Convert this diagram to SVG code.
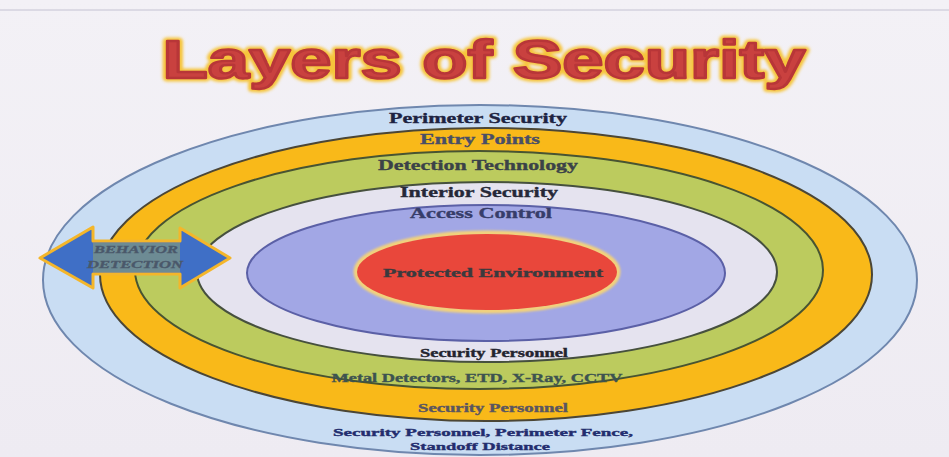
<svg xmlns="http://www.w3.org/2000/svg" width="949" height="457" viewBox="0 0 949 457">
  <defs>
    <linearGradient id="bg" x1="0" y1="0" x2="0" y2="1">
      <stop offset="0" stop-color="#f3f1f6"/>
      <stop offset="1" stop-color="#eeebf2"/>
    </linearGradient>
    <filter id="glow" x="-10%" y="-40%" width="120%" height="180%">
      <feGaussianBlur stdDeviation="1.6"/>
    </filter>
    <filter id="soft" x="-10%" y="-20%" width="120%" height="140%">
      <feGaussianBlur stdDeviation="1.2"/>
    </filter>
  </defs>
  <style>
    .ring { stroke-width: 2; }
    .lbl { font-family: "Liberation Serif", "Times New Roman", serif; font-weight: bold; text-anchor: middle; stroke-width: 0.35; }
    .top { font-size: 15px; }
    .low { font-size: 12px; }
    .small { font-size: 11px; }
    .title { font-family: "Liberation Sans", Arial, sans-serif; font-weight: bold; font-size: 54px; text-anchor: middle; }
    .tag { font-family: "Liberation Serif", "Times New Roman", serif; font-weight: bold; font-style: italic; font-size: 10px; text-anchor: middle; fill: #4a586a; stroke: #4a586a; stroke-width: 0.3; }
  </style>

  <!-- page -->
  <rect x="0" y="0" width="949" height="457" fill="url(#bg)"/>
  <line x1="0" y1="10" x2="949" y2="10" stroke="#c4c2d2" stroke-width="1"/>

  <!-- heading -->
  <g id="title">
    <text class="title" x="484" y="78" textLength="643" lengthAdjust="spacingAndGlyphs" fill="none" stroke="#f6c53a" stroke-width="7" stroke-linejoin="round" filter="url(#glow)">Layers of Security</text>
    <text class="title" x="484" y="78" textLength="643" lengthAdjust="spacingAndGlyphs" fill="#c9413f" stroke="#b83638" stroke-width="2.4" stroke-linejoin="round">Layers of Security</text>
  </g>

  <!-- outermost ring -->
  <g id="perimeter-security">
    <ellipse class="ring" cx="480" cy="280" rx="437" ry="175" fill="#c9ddf3" stroke="#6f87ae"/>
    <text class="lbl top" x="478" y="123" textLength="178" lengthAdjust="spacingAndGlyphs" fill="#1d2342" stroke="#1d2342">Perimeter Security</text>
    <text class="lbl small" x="483" y="436" textLength="300" lengthAdjust="spacingAndGlyphs" fill="#232d6e" stroke="#232d6e">Security Personnel,  Perimeter Fence,</text>
    <text class="lbl small" x="480" y="450" textLength="140" lengthAdjust="spacingAndGlyphs" fill="#232d6e" stroke="#232d6e">Standoff Distance</text>
  </g>

  <g id="entry-points">
    <ellipse class="ring" cx="486" cy="274.5" rx="386" ry="146.5" fill="#f9b919" stroke="#4b4636"/>
    <text class="lbl top" x="480" y="144" textLength="120" lengthAdjust="spacingAndGlyphs" fill="#4a4e66" stroke="#4a4e66">Entry Points</text>
    <text class="lbl low" x="493" y="412" textLength="150" lengthAdjust="spacingAndGlyphs" fill="#5a5560" stroke="#5a5560">Security Personnel</text>
  </g>

  <g id="detection-technology">
    <ellipse class="ring" cx="479" cy="270" rx="344" ry="119" fill="#bccb5e" stroke="#485432"/>
    <text class="lbl top" x="478" y="170" textLength="200" lengthAdjust="spacingAndGlyphs" fill="#3b4248" stroke="#3b4248">Detection Technology</text>
    <text class="lbl low" x="477" y="382" textLength="291" lengthAdjust="spacingAndGlyphs" fill="#3d5350" stroke="#3d5350">Metal Detectors, ETD, X-Ray, CCTV</text>
  </g>

  <g id="interior-security">
    <ellipse class="ring" cx="487" cy="272" rx="290" ry="90" fill="#e5e3ef" stroke="#46503e"/>
    <text class="lbl top" x="479" y="197" textLength="158" lengthAdjust="spacingAndGlyphs" fill="#262838" stroke="#262838">Interior Security</text>
    <text class="lbl low" x="494" y="357" textLength="148" lengthAdjust="spacingAndGlyphs" fill="#23232e" stroke="#23232e">Security Personnel</text>
  </g>

  <g id="access-control">
    <ellipse class="ring" cx="486" cy="273" rx="239" ry="68" fill="#a2a7e5" stroke="#5b60a6"/>
    <text class="lbl top" x="481" y="218" textLength="142" lengthAdjust="spacingAndGlyphs" fill="#373d6a" stroke="#373d6a">Access Control</text>
  </g>

  <g id="protected-environment">
    <ellipse cx="487" cy="272" rx="131" ry="39" fill="none" stroke="#f3d27a" stroke-width="5" filter="url(#soft)"/>
    <ellipse cx="487" cy="272" rx="130" ry="38" fill="#e9473b"/>
    <text class="lbl low" x="493" y="277" font-size="13" textLength="220" lengthAdjust="spacingAndGlyphs" fill="#3a3a3e" stroke="#3a3a3e">Protected Environment</text>
  </g>

  <!-- two-way arrow across the rings -->
  <g id="behavior-detection">
    <path d="M40,258 L93,227 L93,241 L180,241 L180,228 L230,258 L180,288 L180,274 L93,274 L93,288 Z" fill="#3f6fc6" stroke="#f4b62a" stroke-width="3" stroke-linejoin="round"/>
    <rect x="93" y="243" width="87" height="29" fill="#6d8b94"/>
    <text class="tag" x="136" y="253" textLength="84" lengthAdjust="spacingAndGlyphs">BEHAVIOR</text>
    <text class="tag" x="135" y="268" textLength="96" lengthAdjust="spacingAndGlyphs">DETECTION</text>
  </g>

  <g id="connectors"/>
</svg>
